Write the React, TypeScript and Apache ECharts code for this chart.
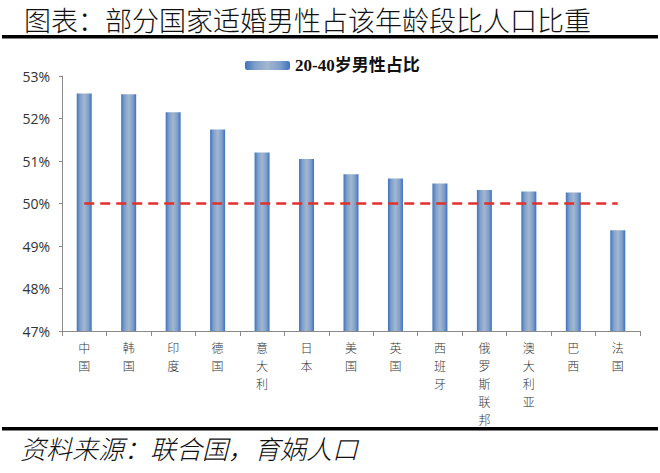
import React, { useEffect, useRef } from "react";
import * as echarts from "echarts";

const titleText = "图表：部分国家适婚男性占该年龄段比人口比重";
const sourceText = "资料来源：联合国，育娲人口";
const seriesName = "20-40岁男性占比";
const categories = ["中国", "韩国", "印度", "德国", "意大利", "日本", "美国", "英国", "西班牙", "俄罗斯联邦", "澳大利亚", "巴西", "法国"];
const values = [52.59, 52.57, 52.15, 51.74, 51.2, 51.05, 50.69, 50.59, 50.47, 50.32, 50.28, 50.26, 49.37];
const referenceLine = categories.map(() => 50);

export default function App() {
  const ref = useRef<HTMLDivElement>(null);
  useEffect(() => {
    const chart = echarts.init(ref.current!, null, { renderer: "svg" });
    const barGrad = new echarts.graphic.LinearGradient(0, 0, 1, 0, [
      { offset: 0, color: "#3f72bd" },
      { offset: 0.22, color: "#7e9fcb" },
      { offset: 0.5, color: "#a3b7cf" },
      { offset: 0.78, color: "#7e9fcb" },
      { offset: 1, color: "#3f72bd" },
    ]);
    chart.setOption({
      animation: false,
      backgroundColor: "#ffffff",
      grid: { left: 62, right: 20, top: 76, bottom: 142 },
      legend: {
        show: true,
        data: [seriesName],
        left: 240,
        top: 52,
        itemWidth: 45,
        itemHeight: 9,
        itemGap: 4,
        textStyle: {
          fontFamily: "'Liberation Serif', 'Noto Sans CJK SC', serif",
          fontWeight: "bold",
          fontSize: 17,
          color: "#111",
        },
      },
      xAxis: {
        type: "category",
        data: categories,
        axisLine: { lineStyle: { color: "#8a8a8a", width: 1 } },
        axisTick: { show: true, length: 5, lineStyle: { color: "#8a8a8a" } },
        axisLabel: {
          interval: 0,
          margin: 7,
          color: "#333",
          fontSize: 12,
          lineHeight: 18,
          fontFamily: "'Noto Sans CJK SC', sans-serif",
          fontWeight: 300,
          formatter: (v: string) => v.split("").join("\n"),
        },
      },
      yAxis: {
        type: "value",
        min: 47,
        max: 53,
        interval: 1,
        axisLine: { show: true, lineStyle: { color: "#8a8a8a", width: 1 } },
        axisTick: { show: true, length: 3, lineStyle: { color: "#8a8a8a" } },
        splitLine: { show: false },
        axisLabel: {
          color: "#333",
          fontSize: 14,
          margin: 12,
          fontFamily: "'Open Sans', 'Liberation Sans', sans-serif",
          formatter: (v: number) => v + "%",
        },
      },
      series: [
        {
          name: seriesName,
          type: "bar",
          data: values,
          barWidth: 15,
          itemStyle: { color: barGrad },
        },
        {
          name: "50%",
          type: "line",
          data: referenceLine,
          symbol: "none",
          lineStyle: { color: "#e2302a", width: 2.5, type: [10, 6] },
          z: 5,
        },
      ],
      graphic: [
        {
          type: "text",
          left: 24,
          top: 6,
          style: {
            text: titleText,
            fontSize: 27,
            fontFamily: "'Noto Sans CJK SC', sans-serif",
            fontWeight: 300,
            fill: "#111",
          },
        },
        {
          type: "rect",
          shape: { x: 2, y: 35, width: 656, height: 3.5 },
          style: { fill: "#000" },
        },
        {
          type: "rect",
          shape: { x: 2, y: 427, width: 656, height: 3.5 },
          style: { fill: "#000" },
        },
        {
          type: "text",
          left: 20,
          top: 434,
          style: {
            text: sourceText,
            fontSize: 26,
            fontStyle: "italic",
            fontFamily: "'Noto Sans CJK SC', sans-serif",
            fontWeight: 300,
            fill: "#111",
          },
        },
      ],
    });
    return () => chart.dispose();
  }, []);
  return <div ref={ref} style={{ width: 660, height: 473, position: "absolute", left: 0, top: 0 }} />;
}
